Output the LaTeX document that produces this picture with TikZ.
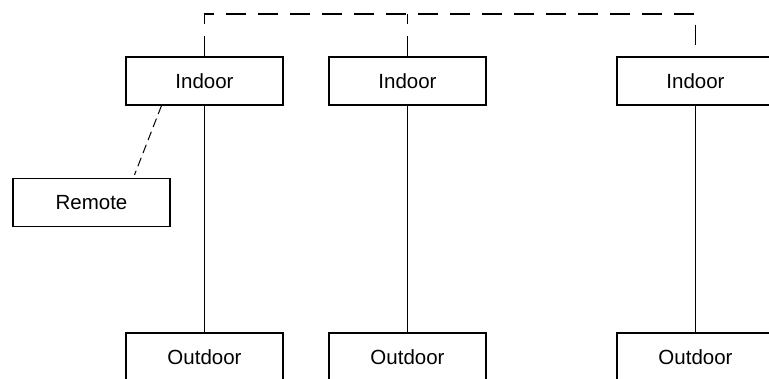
\documentclass[tikz,border=0pt]{standalone}
\usepackage{fontspec}
\setmainfont{Liberation Sans}

\begin{document}
\begin{tikzpicture}[
    x=1pt, y=-1pt,
    every node/.style={font=\fontsize{20.5}{24}\selectfont},
    unit/.style={rectangle, draw, line width=1.2pt, minimum width=157pt, minimum height=48pt, inner sep=0pt},
    pipe/.style={line width=1.2pt},
    bus/.style={line width=1.2pt, dash pattern=on 20pt off 12pt},
    wire/.style={line width=1pt, dash pattern=on 9pt off 5pt}
]
\useasboundingbox (0,0) rectangle (769,378);
\clip (0,0) rectangle (769,378);

\node[unit] (in1) at (204.5,81) {Indoor};
\node[unit] (in2) at (407.5,81) {Indoor};
\node[unit] (in3) at (695.5,81) {Indoor};
\node[unit] (rem) at (91.5,202.5) {Remote};
\node[unit] (out1) at (204.5,357) {Outdoor};
\node[unit] (out2) at (407.5,357) {Outdoor};
\node[unit] (out3) at (695.5,357) {Outdoor};
\coordinate (top) at (0,14);

\draw[pipe] (in1) -- (out1);
\draw[pipe] (in2) -- (out2);
\draw[pipe] (in3) -- (out3);

\draw[bus] (in1.north) -- (in1.north |- top) -| (in3.north);
\draw[bus] (in2.north) -- (in2.north |- top);
\draw[wire] ([xshift=-43pt]in1.south) -- ([xshift=43pt,yshift=3pt]rem.north);
\end{tikzpicture}
\end{document}
